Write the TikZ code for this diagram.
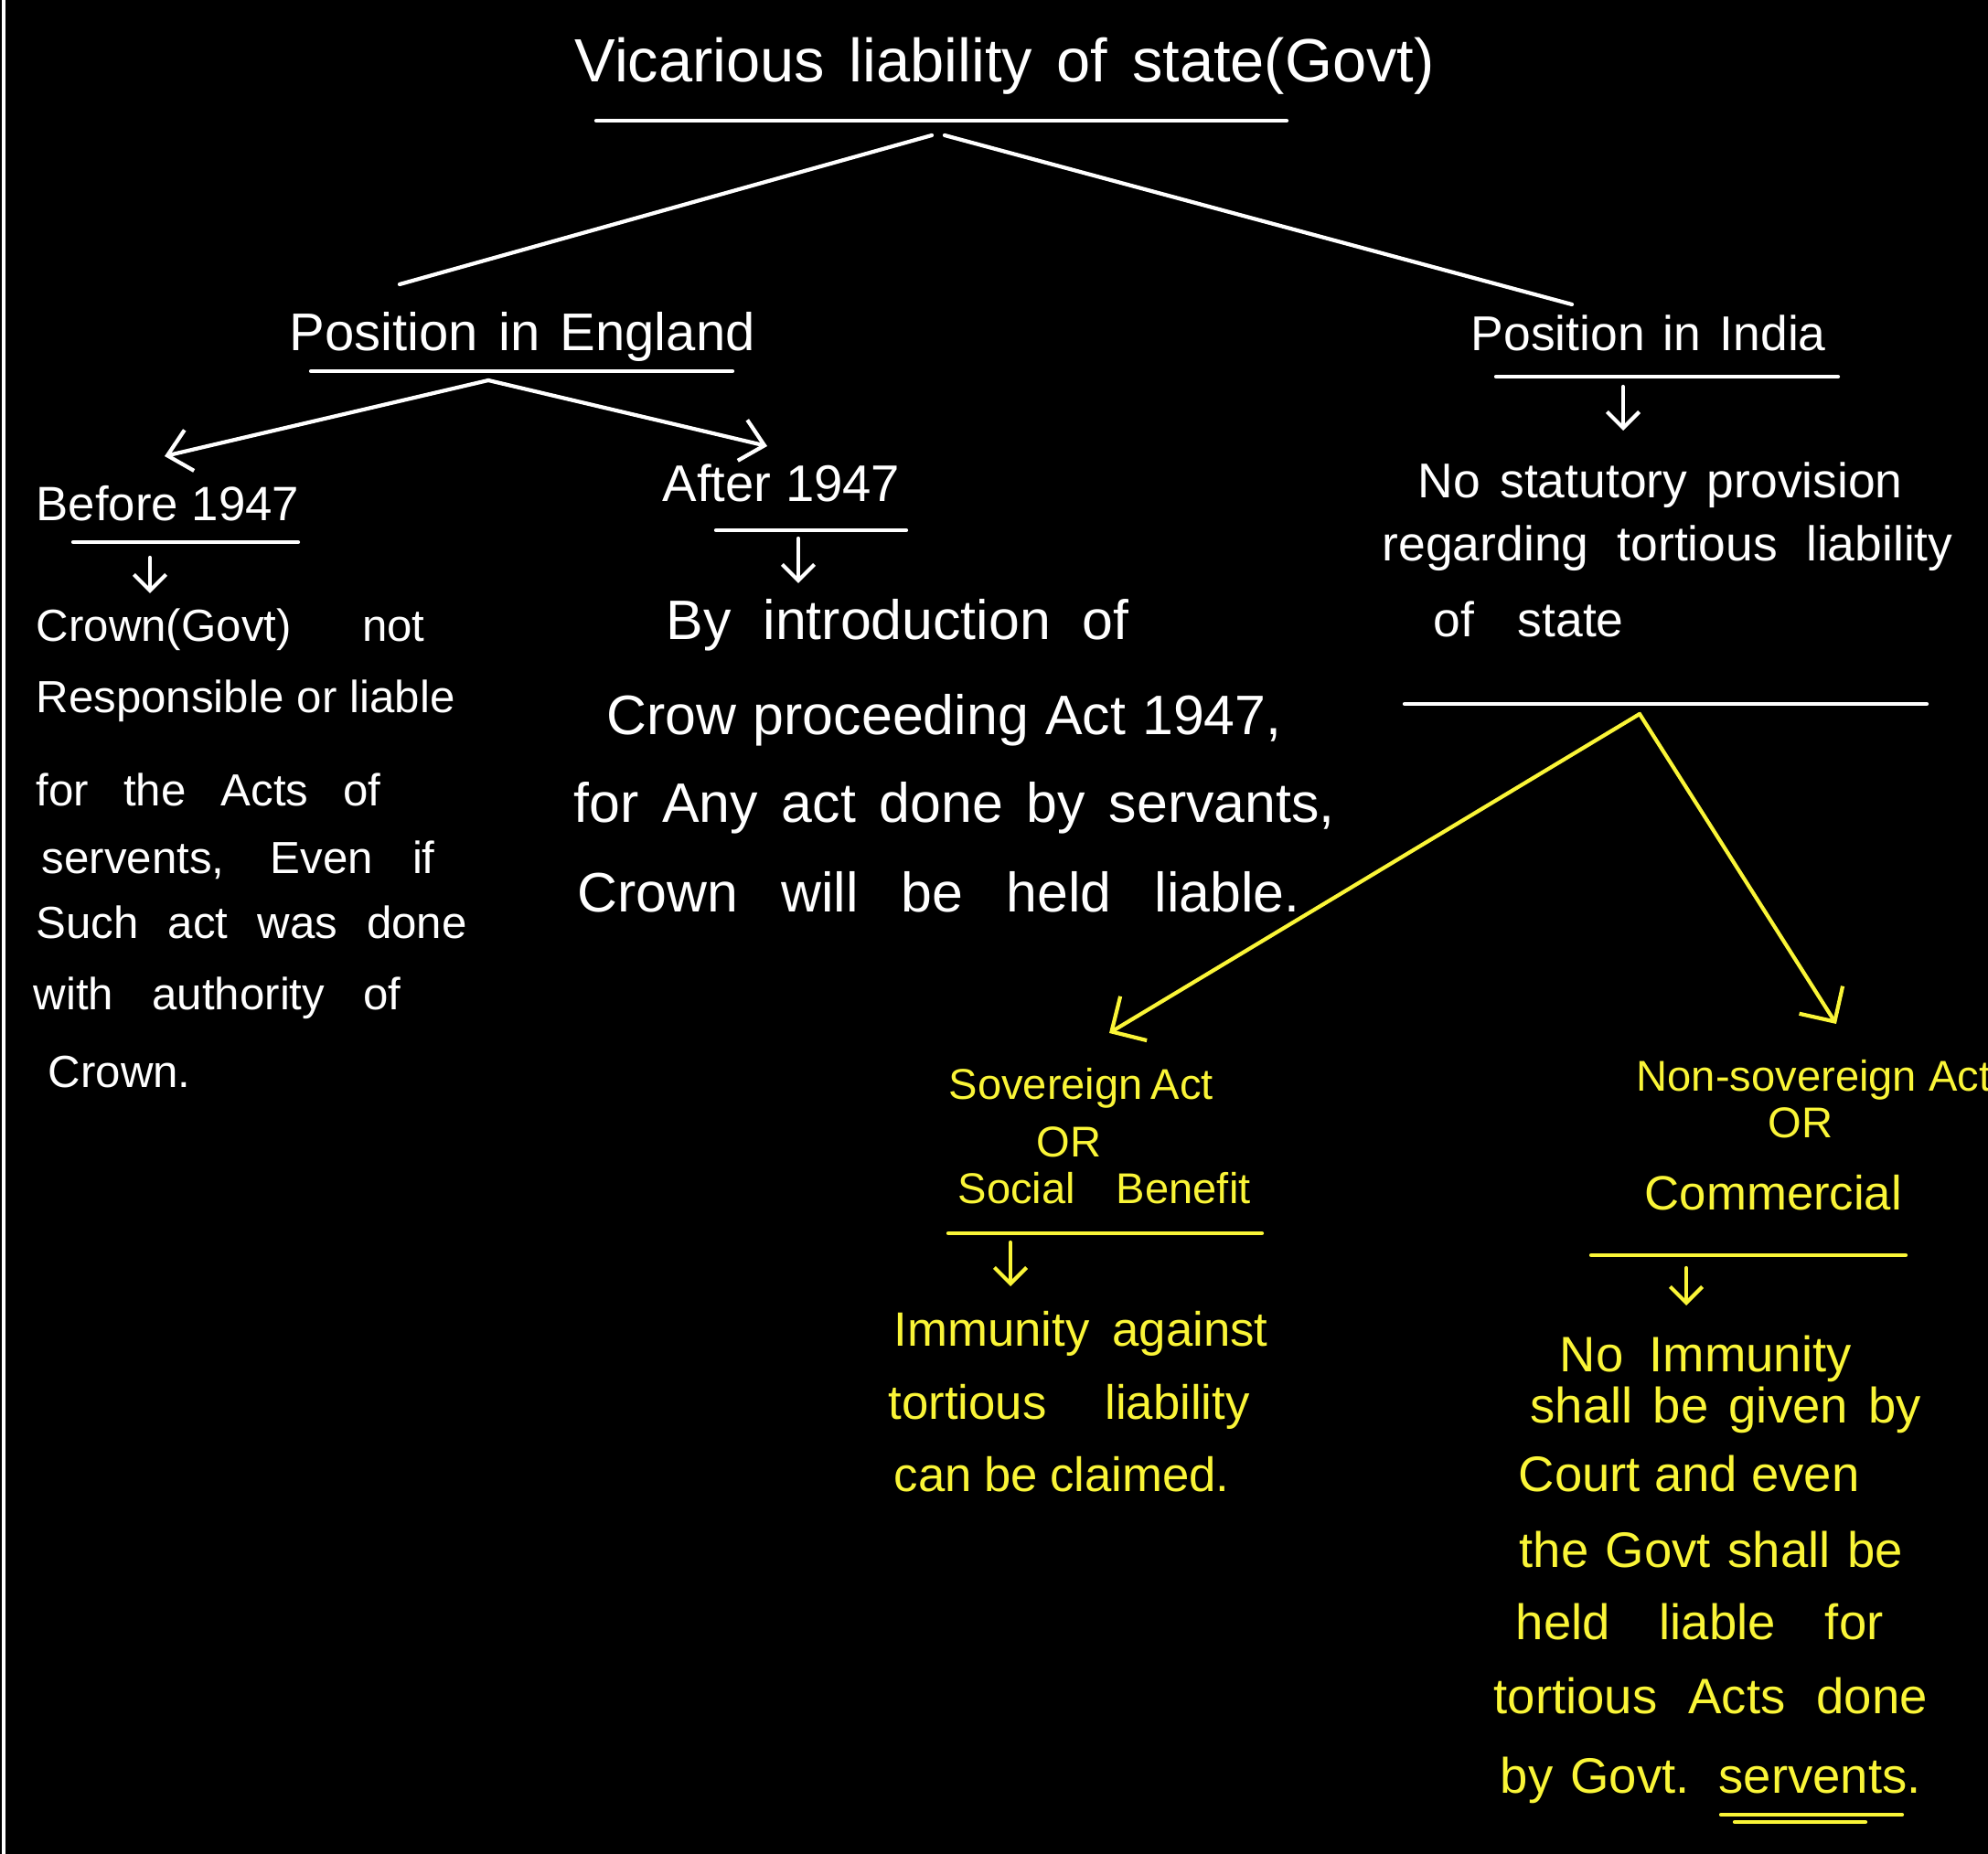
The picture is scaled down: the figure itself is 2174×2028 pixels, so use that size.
\documentclass[tikz,border=0pt]{standalone}
\usepackage{fontspec}
\setmainfont{Liberation Sans}
\usetikzlibrary{arrows.meta}
\definecolor{chalkyellow}{RGB}{250,245,55}
\newlength\pxu
\setlength\pxu{0.01cm}
\tikzset{
  wt/.style={text=white, inner sep=0pt, anchor=mid west},
  yt/.style={text=chalkyellow, inner sep=0pt, anchor=mid west},
  wline/.style={draw=white, line width=1.2pt, line cap=round},
  yline/.style={draw=chalkyellow, line width=1.2pt, line cap=round},
  wdown/.style={wline, -{Straight Barb[length=5pt,width=10pt]}},
  ydown/.style={yline, -{Straight Barb[length=5pt,width=10pt]}},
  ybig/.style={yline, -{Straight Barb[length=8pt,width=16pt]}},
}
\newcommand{\fs}[1]{\fontsize{#1}{#1}\selectfont}
% a line of text whose word gaps are stretched to a given width
\newcommand{\spread}[2]{\makebox[#1\pxu][s]{#2}}
\begin{document}
\begin{tikzpicture}[x=0.01cm,y=-0.01cm]
\fill[black] (0,0) rectangle (2174,2028);
\useasboundingbox (0,0) rectangle (2174,2028);
\draw[white, line width=0.9pt] (4,0) -- (4,2028);

% ---- title ----
\node[wt, font=\fs{19}] (title) at (628,80) {\spread{940}{Vicarious liability of state(Govt)}};
\coordinate (titleL) at (652,132);
\coordinate (titleR) at (1407,132);
\draw[wline] (titleL) -- (titleR);
\coordinate (rootL) at (1019,148);
\coordinate (rootR) at (1033,148);

% ---- England branch ----
\node[wt, font=\fs{16.5}] (eng) at (316,374) {\spread{509}{Position in England}};
\coordinate (engL) at (340,406);
\coordinate (engR) at (801,406);
\draw[wline] (engL) -- (engR);
\coordinate (engTop) at (437,311);
\draw[wline] (rootL) -- (engTop);
\coordinate (engFork) at (534,416);

\node[wt, font=\fs{15}] (before) at (39,560) {Before 1947};
\coordinate (befL) at (80,593);
\coordinate (befR) at (326,593);
\draw[wline] (befL) -- (befR);
\coordinate (befTip) at (180,499);
\draw[wline, -{Straight Barb[length=7pt,width=13pt]}] (engFork) -- (befTip);

\node[wt, font=\fs{16}] (after) at (724,539) {After 1947};
\coordinate (aftL) at (783,580);
\coordinate (aftR) at (991,580);
\draw[wline] (aftL) -- (aftR);
\coordinate (aftTip) at (839,488);
\draw[wline, -{Straight Barb[length=7pt,width=13pt]}] (engFork) -- (aftTip);

% before 1947: crown not liable
\coordinate (bA) at (164,610);
\coordinate (bB) at (164,649);
\draw[wdown] (bA) -- (bB);
\begin{scope}[every node/.style={wt, font=\fs{14}}]
\node (b1) at (39,692)  {\spread{425}{Crown(Govt) not}};
\node (b2) at (39,770)  {\spread{458}{Responsible or liable}};
\node (b3) at (39,872)  {\spread{377}{for the Acts of}};
\node (b4) at (45,946)  {\spread{430}{servents, Even if}};
\node (b5) at (39,1017) {\spread{471}{Such act was done}};
\node (b6) at (36,1095) {\spread{402}{with authority of}};
\node (b7) at (52,1180) {Crown.};
\end{scope}

% after 1947: crown proceedings act
\coordinate (aA) at (873,589);
\coordinate (aB) at (873,638);
\draw[wdown] (aA) -- (aB);
\begin{scope}[every node/.style={wt, font=\fs{17.3}}]
\node (a1) at (728,690)  {\spread{506}{By introduction of}};
\node (a2) at (663,794)  {\spread{738}{Crow proceeding Act 1947,}};
\node (a3) at (627,890)  {\spread{832}{for Any act done by servants,}};
\node (a4) at (631,988)  {\spread{790}{Crown will be held liable.}};
\end{scope}

% ---- India branch ----
\node[wt, font=\fs{15.2}] (ind) at (1608,374) {\spread{388}{Position in India}};
\coordinate (indL) at (1636,412);
\coordinate (indR) at (2010,412);
\draw[wline] (indL) -- (indR);
\coordinate (indTop) at (1719,333);
\draw[wline] (rootR) -- (indTop);
\coordinate (iA) at (1775,423);
\coordinate (iB) at (1775,471);
\draw[wdown] (iA) -- (iB);
\begin{scope}[every node/.style={wt, font=\fs{15.2}}]
\node (i1) at (1550,535) {\spread{530}{No statutory provision}};
\node (i2) at (1511,604) {\spread{624}{regarding tortious liability}};
\node (i3) at (1567,687) {\spread{208}{of state}};
\end{scope}
\coordinate (indBL) at (1536,770);
\coordinate (indBR) at (2107,770);
\draw[wline] (indBL) -- (indBR);
\coordinate (indFork) at (1793,781);

% sovereign acts
\coordinate (sovTip) at (1213,1130);
\draw[ybig] (indFork) -- (sovTip);
\begin{scope}[every node/.style={yt, font=\fs{13.4}}]
\node (s1) at (1037,1193) {\spread{287}{Sovereign Act}};
\node (s2) at (1133,1256) {OR};
\node (s3) at (1047,1307) {\spread{320}{Social Benefit}};
\end{scope}
\coordinate (sovL) at (1037,1349);
\coordinate (sovR) at (1380,1349);
\draw[yline] (sovL) -- (sovR);
\coordinate (sA) at (1105,1359);
\coordinate (sB) at (1105,1407);
\draw[ydown] (sA) -- (sB);
\begin{scope}[every node/.style={yt, font=\fs{15}}]
\node (s4) at (977,1463) {\spread{409}{Immunity against}};
\node (s5) at (971,1543) {\spread{395}{tortious liability}};
\node (s6) at (977,1622) {\spread{367}{can be claimed.}};
\end{scope}

% non-sovereign acts
\coordinate (nsTip) at (2008,1120);
\draw[ybig] (indFork) -- (nsTip);
\begin{scope}[every node/.style={yt, font=\fs{13.4}}]
\node (n1) at (1789,1184) {Non-sovereign Act};
\node (n2) at (1933,1235) {OR};
\end{scope}
\node[yt, font=\fs{15}] (n3) at (1798,1314) {Commercial};
\coordinate (nsL) at (1740,1373);
\coordinate (nsR) at (2084,1373);
\draw[yline] (nsL) -- (nsR);
\coordinate (nA) at (1844,1387);
\coordinate (nB) at (1844,1428);
\draw[ydown] (nA) -- (nB);
\begin{scope}[every node/.style={yt, font=\fs{15.5}}]
\node (n4) at (1705,1491) {\spread{319}{No Immunity}};
\node (n5) at (1673,1547) {\spread{427}{shall be given by}};
\node (n6) at (1660,1622) {Court and even};
\node (n7) at (1661,1705) {\spread{419}{the Govt shall be}};
\node (n8) at (1657,1784) {\spread{402}{held liable for}};
\node (n9) at (1633,1865) {\spread{474}{tortious Acts done}};
\node (n10) at (1640,1952) {\spread{460}{by Govt. servents.}};
\end{scope}
\coordinate (u1L) at (1882,1985);
\coordinate (u1R) at (2080,1985);
\coordinate (u2L) at (1897,1993);
\coordinate (u2R) at (2040,1993);
\draw[yline] (u1L) -- (u1R);
\draw[yline] (u2L) -- (u2R);
\end{tikzpicture}
\end{document}
